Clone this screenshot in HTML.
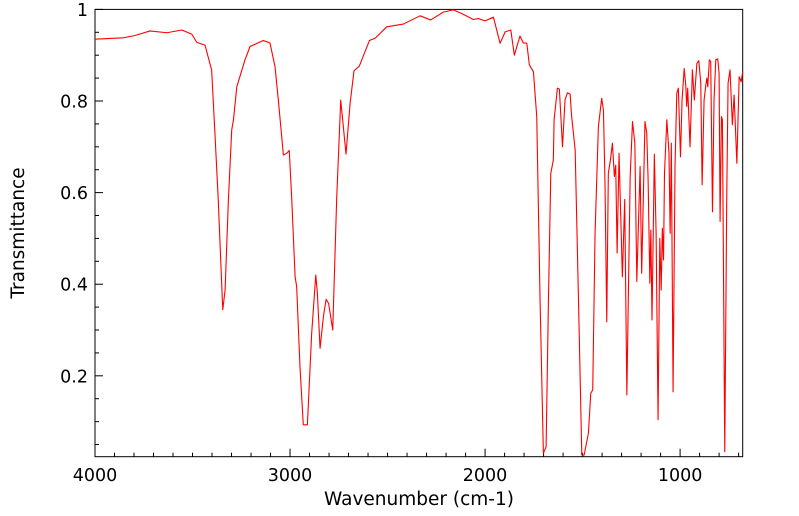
<!DOCTYPE html>
<html><head><meta charset="utf-8"><style>
html,body{margin:0;padding:0;background:#fff;}
svg{display:block;font-family:"DejaVu Sans","Liberation Sans",sans-serif;}
</style></head><body>
<svg id="chart" width="799" height="516" viewBox="0 0 799 516"></svg>
<script>
const wavenumbers=[4000,3855,3795,3718,3632,3555,3504,3478,3436,3402,3385,3368,3345,3333,3316,3299,3290,3273,3231,3205,3137,3103,3077,3060,3034,3017,3004,2991,2974,2966,2949,2932,2911,2889,2868,2860,2846,2829,2815,2802,2781,2761,2740,2713,2692,2672,2645,2593,2564,2504,2419,2333,2279,2214,2163,2120,2060,2034,2000,1957,1923,1897,1868,1850,1821,1804,1786,1773,1752,1735,1718,1701,1687,1675,1663,1650,1646,1629,1619,1603,1590,1578,1564,1556,1538,1521,1504,1492,1470,1458,1448,1436,1419,1402,1393,1385,1376,1368,1356,1347,1337,1330,1323,1313,1296,1284,1273,1256,1244,1232,1222,1205,1197,1180,1171,1164,1155,1150,1144,1132,1123,1113,1104,1097,1091,1085,1080,1068,1057,1051,1045,1036,1026,1017,1009,998,990,979,971,966,961,949,937,927,914,904,894,887,877,868,863,858,850,843,834,826,817,807,800,795,788,783,771,761,754,744,732,723,709,697,687,679];
const transmittance=[0.935,0.938,0.943,0.953,0.949,0.955,0.946,0.928,0.922,0.868,0.729,0.584,0.344,0.387,0.584,0.737,0.759,0.831,0.890,0.919,0.932,0.927,0.875,0.802,0.682,0.686,0.692,0.584,0.416,0.395,0.220,0.093,0.093,0.293,0.420,0.381,0.260,0.329,0.367,0.358,0.300,0.584,0.802,0.684,0.795,0.866,0.876,0.932,0.937,0.962,0.968,0.986,0.977,0.994,0.999,0.991,0.978,0.980,0.975,0.983,0.926,0.951,0.955,0.900,0.942,0.927,0.926,0.879,0.864,0.766,0.366,0.031,0.045,0.366,0.642,0.671,0.759,0.828,0.826,0.700,0.802,0.818,0.815,0.766,0.693,0.366,0.027,0.027,0.075,0.162,0.169,0.511,0.744,0.806,0.780,0.620,0.318,0.642,0.675,0.708,0.635,0.660,0.468,0.686,0.416,0.585,0.158,0.635,0.755,0.708,0.406,0.657,0.424,0.755,0.730,0.628,0.402,0.518,0.322,0.684,0.511,0.104,0.500,0.387,0.522,0.453,0.642,0.759,0.686,0.511,0.708,0.165,0.657,0.817,0.828,0.678,0.802,0.871,0.835,0.788,0.828,0.700,0.868,0.802,0.882,0.888,0.839,0.617,0.802,0.835,0.850,0.831,0.890,0.886,0.558,0.802,0.890,0.892,0.860,0.537,0.766,0.759,0.034,0.584,0.839,0.868,0.748,0.813,0.664,0.853,0.842,0.864];
const xTickLabels=[4000,3000,2000,1000];
const yTickLabels=[0.2,0.4,0.6,0.8,1];

const NS="http://www.w3.org/2000/svg";
const svg=document.getElementById('chart');
const L=95,R=742.7,T=9.4,B=456.7;
const xMax=4000,xMin=679,yMin=0.0234,yMax=1;
function xs(v){return L+(xMax-v)/(xMax-xMin)*(R-L);}
function ys(v){return B-(v-yMin)/(yMax-yMin)*(B-T);}
function mk(tag,attrs,parent){const e=document.createElementNS(NS,tag);for(const k in attrs)e.setAttribute(k,attrs[k]);(parent||svg).appendChild(e);return e;}

const frame=mk('rect',{x:L,y:T,width:R-L,height:B-T,fill:'none',stroke:'#000','stroke-width':1});



const xAxis=mk('g',{});


for(let v=4000;v>=xMin;v-=100){
  const major=v%1000===0;
  const x=xs(v);
  const t=mk('line',{x1:x,x2:x,y1:B,y2:B-(major?8:4),stroke:'#000','stroke-width':1},xAxis);
  
  
}
xTickLabels.forEach(v=>{
  const t=mk('text',{x:xs(v),y:481,'text-anchor':'middle','font-size':17.5,fill:'#000'},xAxis);
  t.textContent=v;
  
  
});
const yAxis=mk('g',{});


for(let i=1;i<=20;i++){
  const v=i*0.05;
  const major=i%4===0;
  const y=ys(v);
  const t=mk('line',{x1:L,x2:L+(major?8:4),y1:y,y2:y,stroke:'#000','stroke-width':1},yAxis);
  
  
}
yTickLabels.forEach(v=>{
  const t=mk('text',{x:88,y:ys(v)+6.5,'text-anchor':'end','font-size':17.5,fill:'#000'},yAxis);
  t.textContent=v;
  
  
});
const xt=mk('text',{x:419,y:505,'text-anchor':'middle','font-size':18.5,fill:'#000'});
xt.textContent='Wavenumber (cm-1)';


const yt=mk('text',{x:0,y:0,'text-anchor':'middle','font-size':18.5,fill:'#000',transform:'translate(24,233) rotate(-90)'});
yt.textContent='Transmittance';



let d='';
wavenumbers.forEach((w,i)=>{d+=(i?'L':'M')+xs(w).toFixed(2)+','+ys(transmittance[i]).toFixed(2);});
const line=mk('path',{d:d,fill:'none',stroke:'#ff0000','stroke-width':1.1,'stroke-linejoin':'round'});


</script>
</body></html>
